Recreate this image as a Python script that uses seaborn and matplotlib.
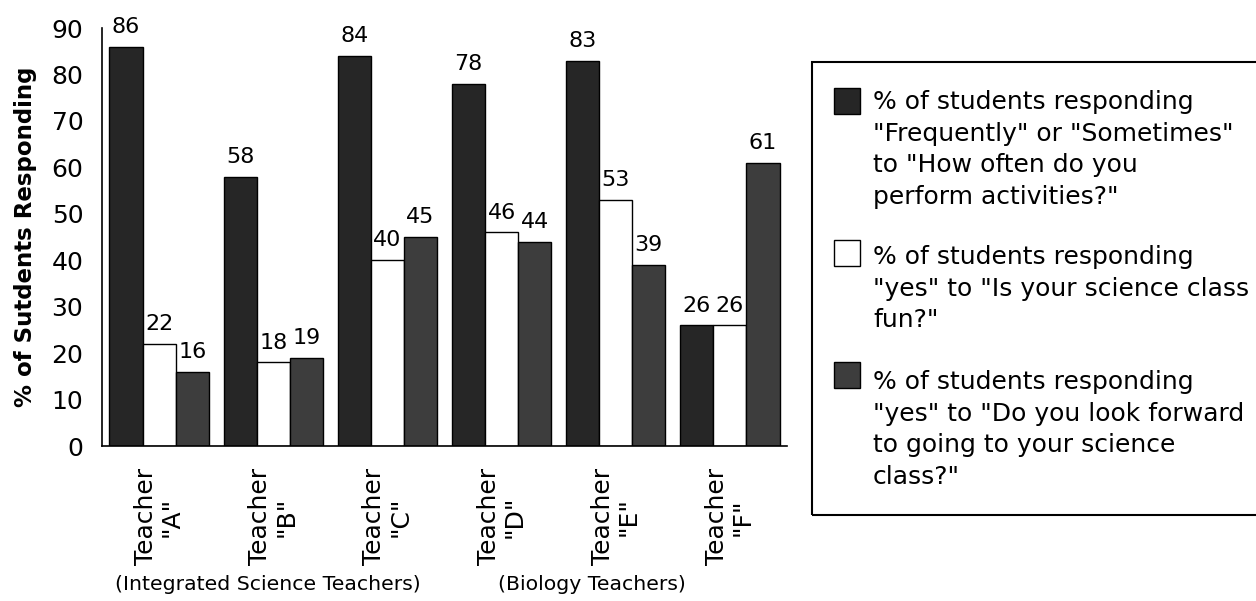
import matplotlib
matplotlib.use("Agg")
import matplotlib.pyplot as plt
import seaborn as sns
import pandas as pd
from matplotlib.patches import Rectangle

# ---- data ----
teachers = ['Teacher\n"A"', 'Teacher\n"B"', 'Teacher\n"C"', 'Teacher\n"D"', 'Teacher\n"E"', 'Teacher\n"F"']
series_names = ["activities", "fun", "look forward"]
activities = [86, 58, 84, 78, 83, 26]
fun = [22, 18, 40, 46, 53, 26]
look_forward = [16, 19, 45, 44, 39, 61]
legend_labels = [
    '% of students responding\n"Frequently" or "Sometimes"\nto "How often do you\nperform activities?"',
    '% of students responding\n"yes" to "Is your science class\nfun?"',
    '% of students responding\n"yes" to "Do you look forward\nto going to your science\nclass?"',
]
group_labels = ["(Integrated Science Teachers)", "(Biology Teachers)"]
y_label = "% of Sutdents Responding"
y_ticks = [0, 10, 20, 30, 40, 50, 60, 70, 80, 90]

colors = ["#262626", "#ffffff", "#3d3d3d"]

df = pd.DataFrame({
    "teacher": teachers * 3,
    "series": [series_names[0]] * 6 + [series_names[1]] * 6 + [series_names[2]] * 6,
    "value": activities + fun + look_forward,
})

sns.set_style("white")
plt.rcParams["font.family"] = ["DejaVu Sans"]
plt.rcParams["text.color"] = "black"
plt.rcParams["axes.labelcolor"] = "black"
plt.rcParams["xtick.color"] = "black"
plt.rcParams["ytick.color"] = "black"

W, H = 1256, 601
fig = plt.figure(figsize=(W / 100, H / 100), dpi=100)
ax = fig.add_axes([102 / W, 1 - 446 / H, (787 - 102) / W, (446 - 28) / H])

sns.barplot(data=df, x="teacher", y="value", hue="series", order=teachers,
            hue_order=series_names, palette=colors, width=0.87,
            edgecolor="black", linewidth=1, saturation=1, ax=ax, legend=False)

for cont in ax.containers:
    ax.bar_label(cont, padding=7, fontsize=16, color="black")

ax.set_xlim(-0.5, 5.5)
ax.set_ylim(0, 90)
ax.set_yticks(y_ticks)
ax.set_yticklabels([str(t) for t in y_ticks], fontsize=18)
ax.set_xticks(range(len(teachers)))
ax.set_xticklabels(teachers, rotation=90, fontsize=18, va="top", ha="center",
                   multialignment="center", linespacing=1.1)
ax.set_xticks([i + 0.5 for i in range(len(teachers))], minor=True)
ax.tick_params(axis="x", which="major", length=0, pad=16)
ax.tick_params(axis="x", which="minor", length=9, width=1, direction="inout", color="black")
ax.tick_params(axis="y", length=9, width=1, direction="inout", color="black", pad=9)
ax.set_xlabel("")
ax.set_ylabel(y_label, fontsize=16.5, fontweight="bold", labelpad=10)
for s in ["top", "right"]:
    ax.spines[s].set_visible(False)
for s in ["left", "bottom"]:
    ax.spines[s].set_color("black")
    ax.spines[s].set_linewidth(1.2)

# group labels
fig.text(268 / W, 1 - 585 / H, group_labels[0], fontsize=14.7, ha="center", va="center")
fig.text(592 / W, 1 - 585 / H, group_labels[1], fontsize=14.7, ha="center", va="center")

# legend box (manual)
box_top, box_bottom = 62, 515
fig.patches.append(Rectangle((812 / W, 1 - box_bottom / H), (W - 812 + 20) / W,
                             (box_bottom - box_top) / H,
                             transform=fig.transFigure, fill=False, edgecolor="black",
                             linewidth=1.5, clip_on=False))
square_tops = [88, 240, 362]
text_tops = [90, 245, 370]
for lab, col, stop, ttop in zip(legend_labels, colors, square_tops, text_tops):
    fig.patches.append(Rectangle((834 / W, 1 - (stop + 26) / H), 26 / W, 26 / H,
                                 transform=fig.transFigure, facecolor=col,
                                 edgecolor="black", linewidth=1))
    fig.text(873 / W, 1 - ttop / H, lab, fontsize=18, ha="left", va="top",
             linespacing=1.4)

fig.savefig("out.png", dpi=100, facecolor="white")
